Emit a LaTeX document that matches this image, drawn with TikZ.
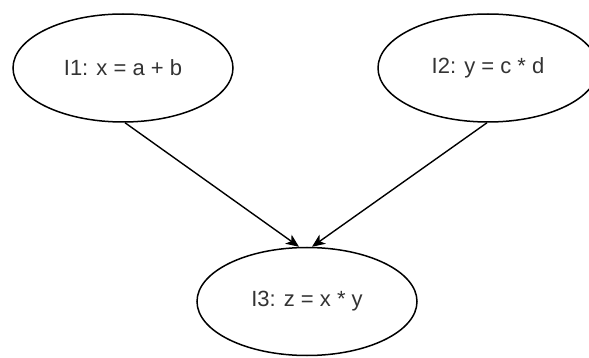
\documentclass[tikz,border=0pt]{standalone}
\usepackage{fontspec}
\setmainfont{Liberation Sans}
\usetikzlibrary{arrows.meta,shapes.geometric}
\definecolor{txt}{HTML}{333333}
\begin{document}
\begin{tikzpicture}[x=1pt,y=-1pt,
  op/.style={draw=black,line width=1.5pt,ellipse,minimum width=220pt,minimum height=108pt,inner sep=0pt,
    font=\fontsize{22}{26}\selectfont,text=txt},
  link/.style={line width=1.4pt,-{Stealth[length=13pt,width=11pt,inset=3.5pt]}}]
\useasboundingbox (0,0) rectangle (589,358);
\clip (0,0) rectangle (589,358);
\fill[white] (0,0) rectangle (589,358);
\node[op] (i1) at (123,68) {I1: x = a + b};
\node[op] (i2) at (488,68) {I2: y = c * d};
\node[op] (i3) at (307,301.5) {I3: z = x * y};
\draw[link] ([xshift=2pt]i1.south) -- ([xshift=-8pt]i3.north);
\draw[link] ([xshift=-1pt]i2.south) -- ([xshift=5pt]i3.north);
\end{tikzpicture}
\end{document}
